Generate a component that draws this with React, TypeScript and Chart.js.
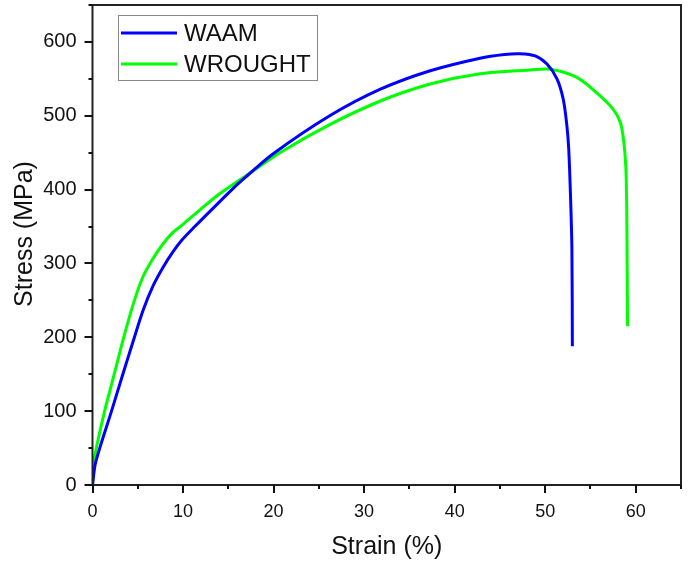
import React, { useEffect, useRef } from "react";
import { Chart, registerables } from "chart.js";

Chart.register(...registerables);

const waamStrain = [0, 0.3, 0.8, 2.1, 3.3, 4.5, 5.6, 6.7, 7.8, 8.9, 9.9, 11.3, 13.5, 16, 17, 20, 26.2, 31.8, 37.3, 42.8, 45.5, 47.2, 48.9, 50.2, 51.3, 52.0, 52.4, 52.6, 52.8, 52.95, 53];
const waamStress = [0, 28, 50, 100, 148, 195, 237, 270, 295, 316, 332, 350, 377, 407, 418, 449, 500, 536, 561, 578, 583, 584, 581, 570, 550, 522, 486, 455, 390, 320, 188];

const wroughtStrain = [0, 0.15, 0.42, 1.34, 2.4, 3.45, 4.5, 5.5, 6.6, 7.7, 8.8, 10, 12, 14, 16, 17, 20.7, 26.2, 31.8, 37.3, 42.8, 48.3, 50.6, 53.5, 55.7, 57.5, 58.3, 58.65, 58.9, 59.0, 59.05, 59.1];
const wroughtStress = [0, 30, 50, 100, 150, 200, 245, 280, 305, 325, 341, 353, 374, 394, 411, 419, 450, 488, 520, 543, 557, 562, 563, 552, 531, 509, 491, 468, 432, 380, 300, 215];

const seriesLabels = ["WAAM", "WROUGHT"];
const seriesColors = ["#0000ff", "#00ff00"];

const xTitle = "Strain (%)";
const yTitle = "Stress (MPa)";

const FONT = "'Liberation Sans', Arial, sans-serif";

const framePlugin = {
  id: "frame",
  afterDraw(chart: any) {
    const { ctx, chartArea } = chart;
    const xs = chart.scales.x;
    const ys = chart.scales.y;
    ctx.save();
    ctx.strokeStyle = "#222";
    ctx.lineWidth = 2;
    ctx.strokeRect(chartArea.left, chartArea.top, chartArea.right - chartArea.left, chartArea.bottom - chartArea.top);
    ctx.strokeStyle = "#111";
    for (let v = 0; v <= 65; v += 5) {
      const px = Math.round(xs.getPixelForValue(v));
      const len = v % 10 === 0 ? 8 : 4;
      ctx.beginPath();
      ctx.moveTo(px, chartArea.bottom);
      ctx.lineTo(px, chartArea.bottom + len);
      ctx.stroke();
    }
    for (let v = 0; v <= 650; v += 50) {
      const py = Math.round(ys.getPixelForValue(v));
      const len = v % 100 === 0 ? 8 : 4;
      ctx.beginPath();
      ctx.moveTo(chartArea.left, py);
      ctx.lineTo(chartArea.left - len, py);
      ctx.stroke();
    }
    ctx.fillStyle = "#111";
    ctx.font = `25px ${FONT}`;
    ctx.textAlign = "center";
    ctx.textBaseline = "middle";
    ctx.fillText(xTitle, (chartArea.left + chartArea.right) / 2, 547);
    ctx.save();
    ctx.translate(25, 234);
    ctx.rotate(-Math.PI / 2);
    ctx.fillText(yTitle, 0, 0);
    ctx.restore();
    const lx = 118, ly = 15, lw = 199, lh = 65;
    ctx.fillStyle = "#fff";
    ctx.fillRect(lx, ly, lw, lh);
    ctx.strokeStyle = "#888";
    ctx.lineWidth = 1;
    ctx.strokeRect(lx + 0.5, ly + 0.5, lw, lh);
    chart.data.datasets.forEach((ds: any, i: number) => {
      const yy = 33 + i * 31;
      ctx.strokeStyle = ds.borderColor;
      ctx.lineWidth = 3;
      ctx.beginPath();
      ctx.moveTo(121, yy);
      ctx.lineTo(177, yy);
      ctx.stroke();
      ctx.fillStyle = "#111";
      ctx.textAlign = "left";
      ctx.font = `24px ${FONT}`;
      ctx.fillText(ds.label, 184, yy + 1);
    });
    ctx.restore();
  },
};

export default function App() {
  const ref = useRef<HTMLCanvasElement>(null);
  useEffect(() => {
    if (!ref.current) return;
    const chart = new Chart(ref.current, {
      type: "line",
      data: {
        datasets: [
          {
            label: seriesLabels[0],
            data: waamStrain.map((x, i) => ({ x, y: waamStress[i] })),
            borderColor: seriesColors[0],
            borderWidth: 3,
            pointRadius: 0,
            tension: 0.3,
            fill: false,
          },
          {
            label: seriesLabels[1],
            data: wroughtStrain.map((x, i) => ({ x, y: wroughtStress[i] })),
            borderColor: seriesColors[1],
            borderWidth: 3,
            pointRadius: 0,
            tension: 0.3,
            fill: false,
          },
        ],
      },
      options: {
        animation: false,
        responsive: false,
        maintainAspectRatio: false,
        layout: { padding: { top: 5, right: 7, left: 0, bottom: 0 } },
        plugins: { legend: { display: false }, tooltip: { enabled: false } },
        scales: {
          x: {
            type: "linear",
            min: 0,
            max: 65,
            grid: { display: false, drawTicks: false },
            border: { display: false },
            ticks: {
              stepSize: 10,
              padding: 16,
              color: "#111",
              font: { size: 18, family: FONT },
              maxRotation: 0,
              callback: (v: any) => (v % 10 === 0 ? String(v) : ""),
            },
            afterFit: (s: any) => {
              s.height = 79;
              s.paddingLeft = 0;
              s.paddingRight = 0;
            },
          },
          y: {
            type: "linear",
            min: 0,
            max: 650,
            grid: { display: false, drawTicks: false },
            border: { display: false },
            ticks: {
              stepSize: 100,
              padding: 16,
              color: "#111",
              font: { size: 20, family: FONT },
              callback: (v: any) => (v % 100 === 0 ? String(v) : ""),
            },
            afterFit: (s: any) => {
              s.width = 92.5;
              s.paddingTop = 0;
              s.paddingBottom = 0;
            },
          },
        },
      },
      plugins: [framePlugin],
    } as any);
    return () => chart.destroy();
  }, []);
  return (
    <div style={{ position: "absolute", left: 0, top: 0, width: 688, height: 564, background: "#fff" }}>
      <canvas ref={ref} width={688} height={564} style={{ width: 688, height: 564 }} />
    </div>
  );
}
